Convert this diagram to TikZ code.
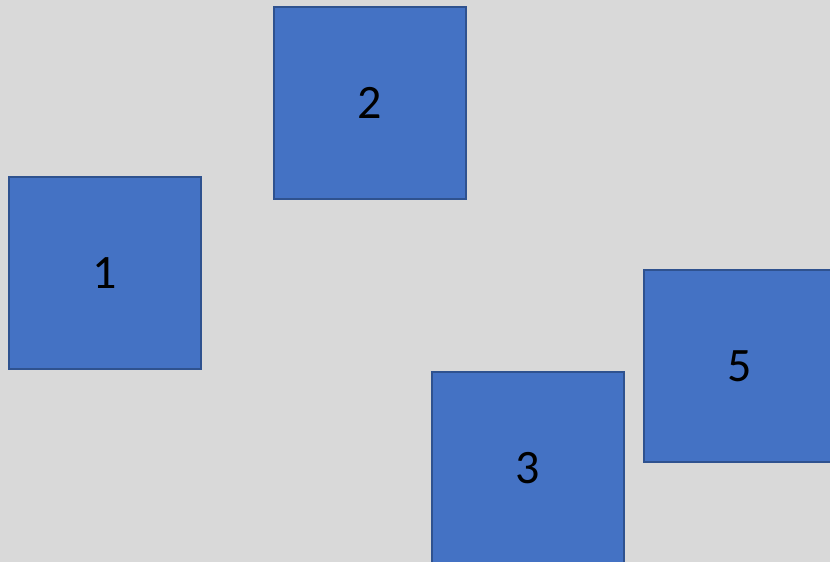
\documentclass[tikz,border=0pt]{standalone}
\usepackage{fontspec}
\setmainfont{Carlito}
\definecolor{bgray}{HTML}{D9D9D9}
\definecolor{boxblue}{HTML}{4472C4}
\definecolor{boxedge}{HTML}{2F528F}
\begin{document}
\begin{tikzpicture}[
    x=1pt, y=-1pt,
    every node/.style={font=\fontsize{48}{50}\selectfont},
    tile/.style={rectangle, draw=boxedge, line width=2pt,
          fill=boxblue, minimum width=192pt, minimum height=192pt,
          inner sep=0pt, align=center},
]
    \useasboundingbox (0,0) rectangle (830,562);
    \clip (0,0) rectangle (830,562);
    \fill[bgray] (0,0) rectangle (830,562);
    \node[tile] (box1) at (105,273) {1};
    \node[tile] (box2) at (370,103) {2};
    \node[tile] (box3) at (528,468) {3};
    \node[tile] (box5) at (740,366) {5};
\end{tikzpicture}
\end{document}
